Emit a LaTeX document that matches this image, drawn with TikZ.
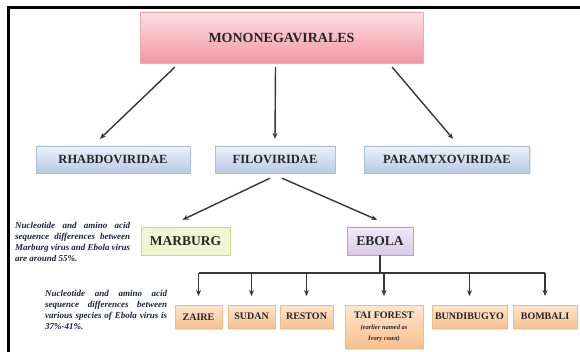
\documentclass[tikz,border=0pt]{standalone}
\usepackage{fontspec}
\setmainfont{Liberation Serif}
\usepackage{xcolor}
\usetikzlibrary{arrows.meta, positioning, shadows}
\definecolor{roottop}{RGB}{252, 224, 228}
\definecolor{rootbot}{RGB}{242, 150, 162}
\definecolor{rootline}{RGB}{236, 170, 178}
\definecolor{famtop}{RGB}{236, 242, 250}
\definecolor{fambot}{RGB}{182, 202, 230}
\definecolor{famline}{RGB}{170, 190, 218}
\definecolor{marbfill}{RGB}{240, 246, 210}
\definecolor{marbline}{RGB}{200, 216, 150}
\definecolor{ebotop}{RGB}{242, 234, 247}
\definecolor{ebobot}{RGB}{218, 200, 232}
\definecolor{eboline}{RGB}{184, 160, 204}
\definecolor{sptop}{RGB}{253, 230, 206}
\definecolor{spbot}{RGB}{249, 192, 142}
\definecolor{spline}{RGB}{240, 186, 140}
\definecolor{arrowgray}{RGB}{55, 55, 55}
\definecolor{notenavy}{RGB}{28, 34, 60}
\newcommand{\spnote}[1]{{\itshape\fontsize{6.5}{8}\selectfont #1}}

\begin{document}
\begin{tikzpicture}[x=1pt, y=-1pt,
        box/.style={draw, minimum height=27pt, inner sep=2pt, align=center,
                    text=black!85, font=\bfseries\fontsize{12.5}{14}\selectfont,
                    drop shadow={opacity=0.2, shadow xshift=1pt, shadow yshift=-1.5pt}},
        famBox/.style={box, draw=famline, top color=famtop, bottom color=fambot},
        spBox/.style={box, anchor=north, draw=spline, top color=sptop, bottom color=spbot,
                      minimum height=23pt, inner sep=1pt, font=\bfseries\fontsize{10}{11}\selectfont},
        note/.style={anchor=north west, align=justify, inner sep=0pt, text=notenavy,
                     font=\bfseries\itshape\fontsize{9}{11}\selectfont},
        arrow/.style={-{Stealth[length=6pt, width=5pt]}, arrowgray, line width=1.4pt},
        busline/.style={arrowgray, line width=1.2pt}]
        \useasboundingbox (0,0) rectangle (580,352);
        % frame
        \draw[line width=3pt] (580,8) -- (8,8) -- (8,352);

        \node[box, draw=rootline, top color=roottop, bottom color=rootbot,
              minimum width=283pt, minimum height=51pt,
              font=\bfseries\fontsize{14}{16}\selectfont] (root) at (281.5,37.5)
              {MONONEGAVIRALES};

        \node[famBox, minimum width=154pt] (rhabdo) at (113,159.5) {RHABDOVIRIDAE};
        \node[famBox, minimum width=120pt] (filo) at (275,159.5) {FILOVIRIDAE};
        \node[famBox, minimum width=165pt] (para) at (447,159.5) {PARAMYXOVIRIDAE};

        \draw[arrow] ([xshift=35pt,yshift=-4pt]root.south west) -- ([xshift=-13pt,yshift=7pt]rhabdo.north);
        \draw[arrow] ([xshift=-6pt,yshift=-4pt]root.south) -- ([yshift=7pt]filo.north);
        \draw[arrow] ([xshift=-31pt,yshift=-4pt]root.south east) -- ([xshift=6pt,yshift=7pt]para.north);

        \node[box, draw=marbline, fill=marbfill, minimum width=89pt, minimum height=28pt,
              font=\bfseries\fontsize{13.5}{15}\selectfont] (marburg) at (185.5,241) {MARBURG};
        \node[box, draw=eboline, top color=ebotop, bottom color=ebobot, minimum width=66pt,
              minimum height=28pt, font=\bfseries\fontsize{13.5}{15}\selectfont] (ebola) at (380,241) {EBOLA};

        \draw[arrow] ([xshift=-5pt,yshift=-5pt]filo.south) -- ([xshift=-3pt,yshift=7pt]marburg.north);
        \draw[arrow] ([xshift=7pt,yshift=-5pt]filo.south) -- ([xshift=-3pt,yshift=7pt]ebola.north);

        \node[note, text width=115pt] (marbnote) at (15,222)
              {Nucleotide and amino acid\linebreak sequence differences between\linebreak
               Marburg virus and Ebola virus\linebreak are around 55\%.};
        \node[note, text width=122pt] (ebonote) at (45,290)
              {Nucleotide and amino acid\linebreak sequence differences between\linebreak
               various species of Ebola virus is\linebreak 37\%-41\%.};

        % Ebola species
        \node[spBox, minimum width=47pt] (zaire) at (198.5,305) {ZAIRE};
        \node[spBox, minimum width=47pt] (sudan) at (251.5,305) {SUDAN};
        \node[spBox, minimum width=53pt] (reston) at (306.5,305) {RESTON};
        \node[spBox, minimum width=78pt, minimum height=43pt, inner sep=3pt] (taiforest) at (384,305)
              {TAI FOREST\\\spnote{(earlier named as}\\\spnote{Ivory coast)}};
        \node[spBox, minimum width=75pt] (bundibugyo) at (469.5,305) {BUNDIBUGYO};
        \node[spBox, minimum width=64pt] (bombali) at (545,305) {BOMBALI};

        \coordinate (bus) at (382,273);
        \draw[busline] (ebola.south) -- (ebola.south |- bus);
        \draw[busline] (zaire.north |- bus) -- (bombali.north |- bus);
        \foreach \sp in {zaire, sudan, reston, taiforest, bundibugyo, bombali}
            \draw[arrow, line width=1.2pt] (\sp.north |- bus) -- ([yshift=9pt]\sp.north);
    \end{tikzpicture}
\end{document}
